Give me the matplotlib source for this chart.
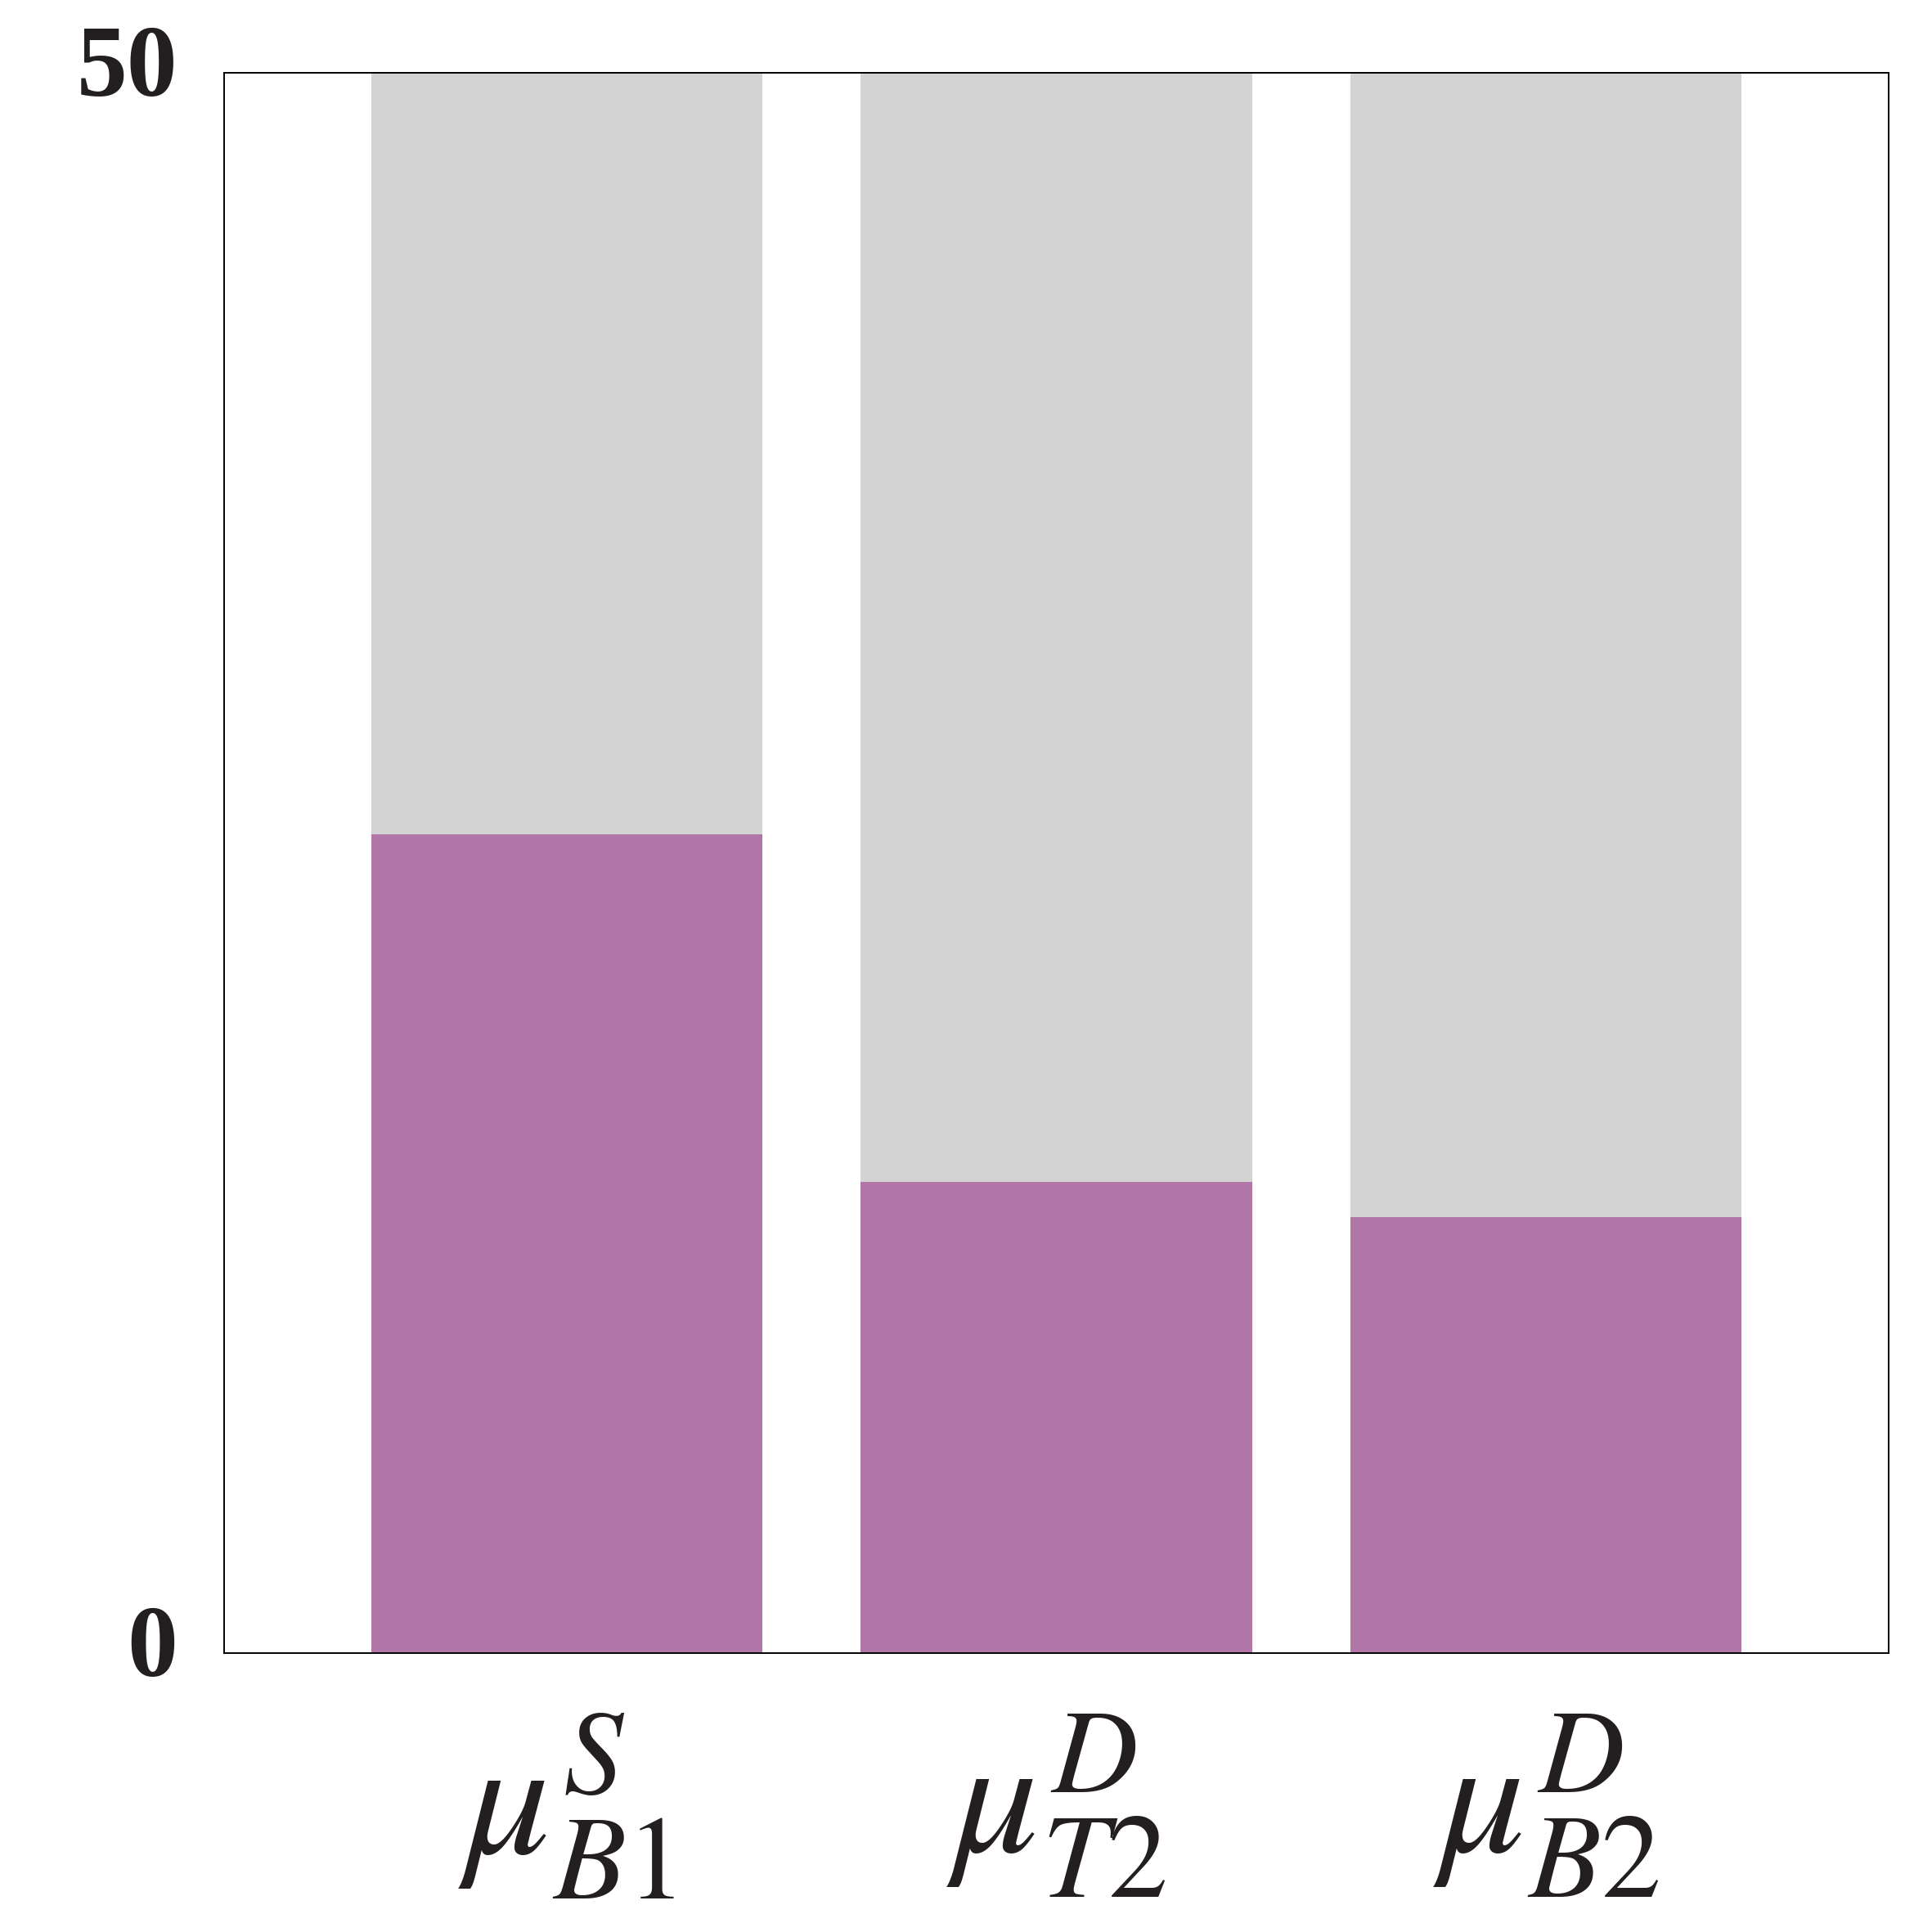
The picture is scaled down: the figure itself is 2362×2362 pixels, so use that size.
import matplotlib
matplotlib.use("Agg")
import matplotlib.pyplot as plt
import matplotlib.transforms as mtransforms

categories = [r"$\mu_{B1}^{S}$", r"$\mu_{T2}^{D}$", r"$\mu_{B2}^{D}$"]
purple_values = [25.9, 14.9, 13.8]
total_values = [50, 50, 50]
ytick_values = [0, 50]
ytick_labels = ["0", "50"]

plt.rcParams["mathtext.fontset"] = "stix"
plt.rcParams["font.family"] = ["Liberation Serif", "DejaVu Serif"]

text_color = "#231F20"
fig = plt.figure(figsize=(23.62, 23.62), dpi=100)
ax = fig.add_axes([274/2362, (2362-2021)/2362, (2309-274)/2362, (2021-89)/2362])

x = list(range(len(categories)))
ax.bar(x, total_values, width=0.8, color="#D3D3D3", zorder=1)
ax.bar(x, purple_values, width=0.8, color="#B275A7", zorder=2)

ax.set_xlim(-0.7, 2.7)
ax.set_ylim(0, 50)
ax.set_yticks(ytick_values)
ax.set_yticklabels(ytick_labels, fontsize=89, fontweight="bold", color=text_color)
ax.set_xticks(x)
ax.set_xticklabels(categories, fontsize=150, color=text_color)
ax.tick_params(axis="both", length=0)
ax.tick_params(axis="y", pad=41)
ax.tick_params(axis="x", pad=52)
for s in ax.spines.values():
    s.set_linewidth(1.4)
    s.set_color("black")

offset = mtransforms.ScaledTranslation(0, 15/100, fig.dpi_scale_trans)
for lab in ax.get_yticklabels():
    lab.set_transform(lab.get_transform() + offset)

fig.savefig("out.png", dpi=100)
